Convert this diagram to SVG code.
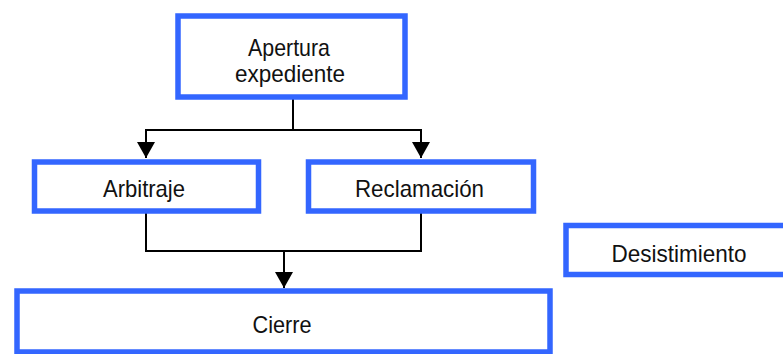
<svg xmlns="http://www.w3.org/2000/svg" width="783" height="354" viewBox="0 0 783 354">
<style>
.box{fill:#fff;stroke:#3366ff;stroke-width:5.5}
.lbl{font-family:"Liberation Sans",Arial,sans-serif;font-size:24px;fill:#111;text-anchor:middle}
.conn{fill:none;stroke:#000;stroke-width:2}
</style>
<defs>
<marker id="arr" markerUnits="userSpaceOnUse" markerWidth="20" markerHeight="18" refX="16" refY="9" orient="auto">
<path d="M0,0 L16,9 L0,18 Z" fill="#000"/>
</marker>
</defs>
<rect width="783" height="354" fill="#fff"/>
<g id="connectors">
<path class="conn" d="M293,97 V130"/>
<path class="conn" d="M293,130 H146 V158" marker-end="url(#arr)"/>
<path class="conn" d="M293,130 H421 V158" marker-end="url(#arr)"/>
<path class="conn" d="M146,211 V251 H421 V211"/>
<path class="conn" d="M284,251 V288" marker-end="url(#arr)"/>
</g>
<g id="apertura">
<rect class="box" x="178" y="16" width="227" height="81"/>
<text class="lbl" x="289" y="56" textLength="82" lengthAdjust="spacingAndGlyphs">Apertura</text>
<text class="lbl" x="290" y="82" textLength="110" lengthAdjust="spacingAndGlyphs">expediente</text>
</g>
<g id="arbitraje">
<rect class="box" x="34.5" y="162" width="224" height="49"/>
<text class="lbl" x="144" y="197" textLength="82" lengthAdjust="spacingAndGlyphs">Arbitraje</text>
</g>
<g id="reclamacion">
<rect class="box" x="308.5" y="162" width="225" height="49"/>
<text class="lbl" x="419.5" y="197" textLength="129" lengthAdjust="spacingAndGlyphs">Reclamación</text>
</g>
<g id="desistimiento">
<rect class="box" x="566" y="225.5" width="222" height="49"/>
<text class="lbl" x="679" y="262" textLength="135" lengthAdjust="spacingAndGlyphs">Desistimiento</text>
</g>
<g id="cierre">
<rect class="box" x="17" y="291" width="533" height="61"/>
<text class="lbl" x="282" y="333" textLength="59" lengthAdjust="spacingAndGlyphs">Cierre</text>
</g>
</svg>
